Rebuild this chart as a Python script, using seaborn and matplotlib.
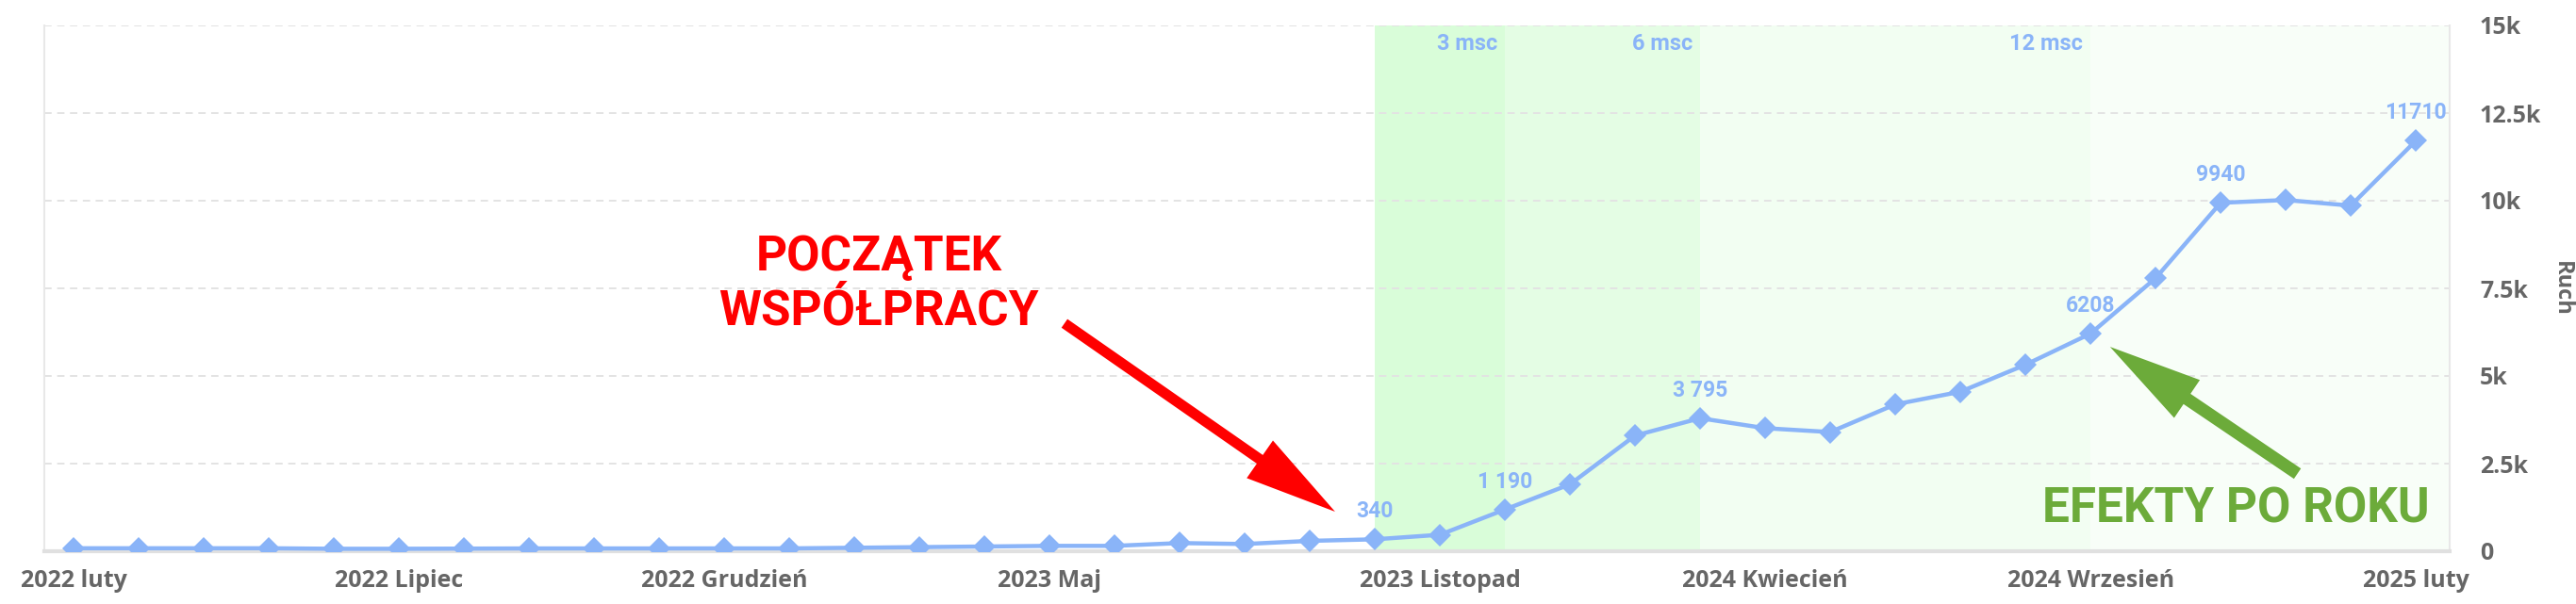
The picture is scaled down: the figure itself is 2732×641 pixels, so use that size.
import numpy as np
import pandas as pd
import matplotlib
matplotlib.use('Agg')
import matplotlib.pyplot as plt
import seaborn as sns

# --- data (monthly traffic, Feb 2022 - Feb 2025) ---
months = pd.period_range('2022-02', '2025-02', freq='M').astype(str).tolist()
traffic = [85, 85, 85, 85, 70, 70, 75, 80, 80, 80,
           81, 81, 99, 117, 135, 153, 153, 233, 206, 296,
           340, 470, 1190, 1910, 3300, 3795, 3510, 3400, 4190, 4550,
           5320, 6208, 7790, 9940, 10020, 9860, 11710]

tick_idx = [0, 5, 10, 15, 21, 26, 31, 36]
tick_labels = ['2022 luty', '2022 Lipiec', '2022 Grudzień', '2023 Maj',
               '2023 Listopad', '2024 Kwiecień', '2024 Wrzesień', '2025 luty']

y_ticks = [0, 2500, 5000, 7500, 10000, 12500, 15000]
y_tick_labels = ['0', '2.5k', '5k', '7.5k', '10k', '12.5k', '15k']

label_idx = [20, 22, 25, 31, 33, 36]
label_txt = ['340', '1 190', '3 795', '6208', '9940', '11710']

band_start = [20, 22, 25, 31]
band_end = [22, 25, 31, None]
band_txt = ['3 msc', '6 msc', '12 msc', '']
band_col = ['#d9fdd9', '#e4fde4', '#f2fef2', '#f8fef8']

BLUE = '#8ab4f8'
GRAY = '#666666'
RED = '#ff0000'
GREEN = '#6cab3a'

df = pd.DataFrame({'idx': np.arange(len(months)), 'month': months, 'traffic': traffic})

sns.set_theme(style='white')
plt.rcParams['font.family'] = ['Open Sans', 'DejaVu Sans']

fig = plt.figure(figsize=(27.32, 6.41), dpi=100)
ax = fig.add_axes([47 / 2732, 1 - 585 / 641, (2598 - 47) / 2732, (585 - 27) / 641])

x_lo, x_hi = -0.45, 36.52

# shaded periods after start of cooperation
for s, e, t, c in zip(band_start, band_end, band_txt, band_col):
    e_val = x_hi if e is None else e
    ax.axvspan(s, e_val, color=c, lw=0, zorder=0.2)
    if t:
        ax.annotate(t, xy=(e_val, 15000), xytext=(-6, -6), textcoords='offset points',
                    ha='right', va='top', color=BLUE, fontsize=17,
                    family=['Roboto', 'DejaVu Sans'], fontweight='bold')

sns.lineplot(data=df, x='idx', y='traffic', ax=ax, color=BLUE, linewidth=3.2,
             marker='D', markersize=12, markeredgewidth=0, zorder=3)

for i, t in zip(label_idx, label_txt):
    ax.annotate(t, xy=(i, traffic[i]), xytext=(0, 13), textcoords='offset points',
                ha='center', va='bottom', color=BLUE, fontsize=16.5,
                family=['Roboto', 'DejaVu Sans'], fontweight='bold')

ax.set_xlim(x_lo, x_hi)
ax.set_ylim(0, 15000)
ax.set_xticks(tick_idx)
ax.set_xticklabels(tick_labels)
ax.set_yticks(y_ticks)
ax.set_yticklabels(y_tick_labels)
ax.yaxis.tick_right()
ax.yaxis.set_label_position('right')
ax.set_xlabel('')
ax.set_ylabel('Ruch', rotation=270, color=GRAY, fontsize=17, fontweight='bold', labelpad=24)
ax.tick_params(axis='x', length=0, pad=14, labelsize=18, labelcolor=GRAY)
ax.tick_params(axis='y', length=0, pad=23, labelsize=18, labelcolor=GRAY)
for lab in ax.get_xticklabels() + ax.get_yticklabels():
    lab.set_fontweight('bold')

ax.set_axisbelow(True)
ax.yaxis.grid(True, color='#e3e3e3', linestyle=(0, (4, 3)), linewidth=1.4)
ax.xaxis.grid(False)
ax.spines['top'].set_visible(False)
for side in ['left', 'right']:
    ax.spines[side].set_color('#e8e8e8')
    ax.spines[side].set_linewidth(1.5)
ax.spines['bottom'].set_color('#e0e0e0')
ax.spines['bottom'].set_linewidth(3)

# annotations
ax.text(0.347, 0.508, 'POCZĄTEK\nWSPÓŁPRACY', transform=ax.transAxes, ha='center', va='center',
        color=RED, fontsize=37, fontweight='bold', family=['Roboto', 'DejaVu Sans'],
        linespacing=1.2)
ax.annotate('', xy=(20, traffic[20]), xytext=(-237, 165), textcoords='offset points',
            arrowprops=dict(arrowstyle='simple,head_length=7.0,head_width=3.5,tail_width=0.8',
                            mutation_scale=10, color=RED, lw=0, shrinkA=0, shrinkB=37))

ax.text(0.9918, 0.054, 'EFEKTY PO ROKU', transform=ax.transAxes, ha='right', va='baseline',
        color=GREEN, fontsize=37, fontweight='bold', family=['Roboto', 'DejaVu Sans'])
ax.annotate('', xy=(31, traffic[31]), xytext=(158, -107), textcoords='offset points',
            arrowprops=dict(arrowstyle='simple,head_length=7.1,head_width=3.5,tail_width=0.95',
                            mutation_scale=10, color=GREEN, lw=0, shrinkA=0, shrinkB=18))

fig.savefig('out.png', dpi=100)
